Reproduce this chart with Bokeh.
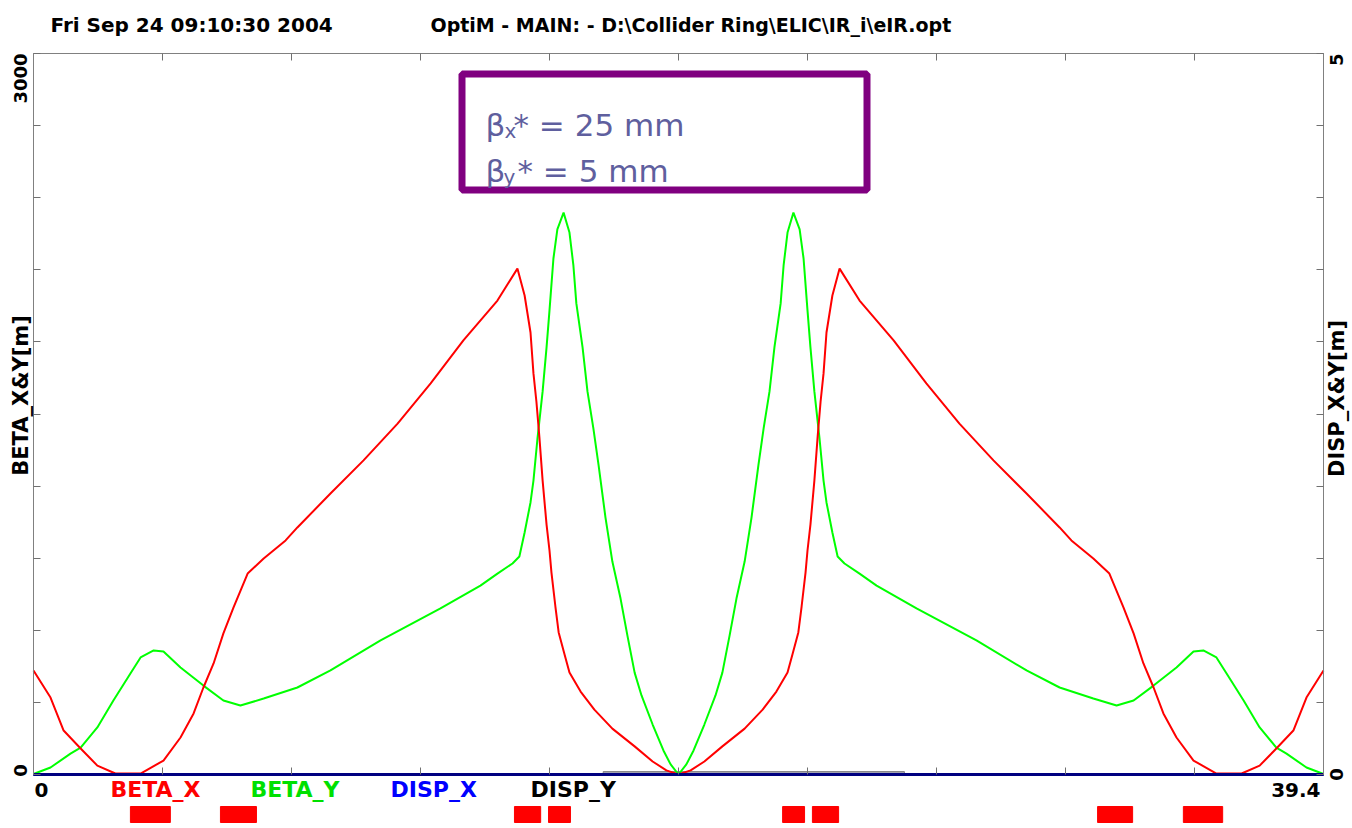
import math
from bokeh.plotting import figure
from bokeh.models import Range1d, LinearAxis, FixedTicker, Label, BoxAnnotation
from bokeh.embed import file_html
from bokeh.resources import INLINE

# ---------------- data ----------------
s_beta_x = [0.00, 0.52, 0.92, 1.44, 1.95, 2.50, 3.27, 3.97, 4.49, 4.89, 5.19, 5.50, 5.80, 6.11,
            6.54, 7.03, 7.70, 8.06, 9.07, 10.08, 11.12, 12.13, 13.13, 14.17, 14.78, 15.00, 15.18,
            15.27, 15.36, 15.45, 15.55, 15.67, 15.76, 15.82, 15.94, 16.04, 16.22, 16.37, 16.71,
            17.13, 17.68, 18.36, 18.91, 19.33, 19.70,
            20.07, 20.49, 21.04, 21.72, 22.27, 22.69, 23.03, 23.18, 23.36, 23.46, 23.58, 23.64,
            23.73, 23.85, 23.95, 24.04, 24.13, 24.22, 24.40, 24.62, 25.23, 26.27, 27.27, 28.28,
            29.32, 30.33, 31.34, 31.70, 32.37, 32.86, 33.29, 33.60, 33.90, 34.21, 34.51, 34.91,
            35.43, 36.13, 36.90, 37.45, 37.96, 38.48, 38.88, 39.40]
beta_x = [433, 320, 183, 108, 37, 4, 4, 58, 154, 254, 362, 462, 587, 695,
          836, 899, 974, 1028, 1169, 1307, 1460, 1627, 1806, 1972, 2105, 1993, 1839,
          1669, 1552, 1406, 1223, 1040, 932, 840, 699, 591, 499, 424, 345,
          270, 191, 117, 54, 17, 0,
          17, 54, 117, 191, 270, 345, 424, 499, 591, 699, 840, 932,
          1040, 1223, 1406, 1552, 1669, 1839, 1993, 2105, 1972, 1806, 1627, 1460,
          1307, 1169, 1028, 974, 899, 836, 695, 587, 462, 362, 254, 154,
          58, 4, 4, 37, 108, 183, 320, 433]

s_beta_y = [0.00, 0.52, 1.13, 1.44, 1.95, 2.44, 2.96, 3.27, 3.67, 3.97, 4.49, 5.19, 5.80, 6.32,
            7.03, 8.06, 9.07, 10.60, 12.43, 13.65, 14.17, 14.63, 14.84, 15.00, 15.18, 15.27,
            15.39, 15.55, 15.67, 15.76, 15.88, 16.00, 16.19, 16.37, 16.49, 16.58, 16.77, 16.92,
            17.10, 17.26, 17.47, 17.68, 17.93, 18.14, 18.36, 18.57, 18.91, 19.24, 19.46, 19.70,
            19.94, 20.16, 20.49, 20.83, 21.04, 21.26, 21.47, 21.72, 21.93, 22.14, 22.30, 22.48,
            22.63, 22.82, 22.91, 23.03, 23.21, 23.40, 23.52, 23.64, 23.73, 23.85, 24.01, 24.13,
            24.22, 24.40, 24.56, 24.77, 25.23, 25.75, 26.97, 28.80, 30.33, 31.34, 32.37, 33.08,
            33.60, 34.21, 34.91, 35.43, 35.73, 36.13, 36.44, 36.96, 37.45, 37.96, 38.27, 38.88,
            39.40]
beta_y = [2, 29, 87, 112, 196, 308, 420, 487, 516, 512, 445, 370, 308, 287,
          316, 362, 433, 558, 691, 786, 836, 878, 907, 1007, 1132, 1223,
          1394, 1594, 1777, 1931, 2147, 2268, 2338, 2255, 2118, 1960, 1777, 1594,
          1440, 1286, 1069, 886, 732, 578, 424, 329, 208, 100, 42, 0,
          42, 100, 208, 329, 424, 578, 732, 886, 1069, 1286, 1440, 1594,
          1777, 1960, 2118, 2255, 2338, 2268, 2147, 1931, 1777, 1594, 1394, 1223,
          1132, 1007, 907, 878, 836, 786, 691, 558, 433, 362, 316, 287,
          308, 370, 445, 512, 516, 487, 420, 308, 196, 112, 87, 29,
          2]

s_disp = [0.0, 39.4]
disp_x = [0.0, 0.0]
disp_y = [0.0, 0.0]

# lattice elements (quads) shown under the plot
elem_start = [2.96, 5.71, 14.69, 15.73, 22.88, 23.79, 32.50, 35.12]
elem_end = [4.18, 6.81, 15.49, 16.40, 23.55, 24.59, 33.57, 36.32]

# detector region drawn at the base line
det_start = [17.4]
det_end = [26.6]

x_ticks = [0, 3.94, 7.88, 11.82, 15.76, 19.70, 23.64, 27.58, 31.52, 35.46, 39.4]
y_ticks = [0, 300, 600, 900, 1200, 1500, 1800, 2100, 2400, 2700, 3000]
disp_ticks = [0, 0.5, 1, 1.5, 2, 2.5, 3, 3.5, 4, 4.5, 5]

x_end_labels = ["0", "39.4"]
beta_tick_labels = ["0", "3000"]
disp_tick_labels = ["0", "5"]
legend_names = ["BETA_X", "BETA_Y", "DISP_X", "DISP_Y"]
legend_colors = ["#ff0000", "#00e000", "#0000ff", "#000000"]

title_left = "Fri Sep 24 09:10:30 2004"
title_right = "OptiM - MAIN: - D:\\Collider Ring\\ELIC\\IR_i\\eIR.opt"

S_MAX = 39.4
B_MAX = 3000.0
D_MAX = 5.0

# ---------------- layout geometry (canvas pixels) ----------------
W, H = 1350, 824
FX0, FX1 = 33, 1323     # plot box left / right
FY_TOP, FY_BOT = 53, 774  # plot box top / bottom


def sx(px):
    return (px - FX0) * S_MAX / (FX1 - FX0)


def by(py):
    return (FY_BOT - py) * B_MAX / (FY_BOT - FY_TOP)


FONT = "DejaVu Sans"

p = figure(width=W, height=H,
           x_range=Range1d(sx(0), sx(W)), y_range=Range1d(by(H), by(0)),
           toolbar_location=None, output_backend="svg",
           x_axis_location=None, y_axis_location=None,
           min_border_left=0, min_border_right=0,
           min_border_top=0, min_border_bottom=0)
p.extra_y_ranges = {"disp": Range1d(by(H) * D_MAX / B_MAX, by(0) * D_MAX / B_MAX)}
p.xgrid.visible = False
p.ygrid.visible = False
p.outline_line_color = None
p.background_fill_color = "white"
p.border_fill_color = "white"


def style_axis(ax, line_color="#808080", line_width=1):
    ax.major_label_text_color = None
    ax.major_tick_in = 7
    ax.major_tick_out = 0
    ax.minor_tick_in = 0
    ax.minor_tick_out = 0
    ax.minor_tick_line_color = None
    ax.major_tick_line_color = "#707070"
    ax.axis_line_color = line_color
    ax.axis_line_width = line_width


xb = LinearAxis(ticker=FixedTicker(ticks=x_ticks), fixed_location=0, bounds=(0, S_MAX))
style_axis(xb, "#000080", 3)
p.add_layout(xb, "below")
xt = LinearAxis(ticker=FixedTicker(ticks=x_ticks), fixed_location=B_MAX, bounds=(0, S_MAX))
style_axis(xt)
p.add_layout(xt, "above")
yl = LinearAxis(ticker=FixedTicker(ticks=y_ticks), fixed_location=0, bounds=(0, B_MAX))
style_axis(yl)
p.add_layout(yl, "left")
yr = LinearAxis(y_range_name="disp", ticker=FixedTicker(ticks=disp_ticks),
                fixed_location=S_MAX, bounds=(0, D_MAX))
style_axis(yr)
p.add_layout(yr, "right")

# detector bar at base line
p.quad(left=det_start, right=det_end, bottom=[0], top=[12],
       fill_color="#a8a8b8", line_color="#808080", line_width=1)

# dispersion lines (zero)
p.line(s_disp, disp_x, color="#0000ff", line_width=3, y_range_name="disp")
p.line(s_disp, disp_y, color="#000000", line_width=3, line_alpha=0.5, y_range_name="disp")

# beta functions
p.line(s_beta_y, beta_y, color="#00ff00", line_width=2)
p.line(s_beta_x, beta_x, color="#ff0000", line_width=2)

# lattice elements below the plot
p.quad(left=elem_start, right=elem_end, bottom=by(822), top=by(806),
       fill_color="#ff0000", line_color="#ff0000")

# annotation box
p.add_layout(BoxAnnotation(left=sx(461.5), right=sx(866.5), top=by(73.5), bottom=by(189.5),
                           fill_color="white", fill_alpha=1.0,
                           line_color="#800080", line_width=7, line_alpha=1.0))
TXT = "#5f5f9e"
box_texts = [
    (485, 124, "\u03b2", 31), (504, 130, "x", 20), (513, 124, "* = 25 mm", 31),
    (485, 170, "\u03b2", 31), (503, 176, "y", 20), (517, 170, "* = 5 mm", 31),
]
for px, py, t, fs in box_texts:
    p.add_layout(Label(x=sx(px), y=by(py), text=t, text_font=FONT,
                       text_font_size=f"{fs}px", text_color=TXT,
                       text_baseline="alphabetic", text_align="left"))

# title
p.add_layout(Label(x=sx(50), y=by(24), text=title_left, text_font=FONT,
                   text_font_style="bold", text_font_size="20px", text_color="black",
                   text_baseline="alphabetic", text_align="left"))
p.add_layout(Label(x=sx(430), y=by(24), text=title_right, text_font=FONT,
                   text_font_style="bold", text_font_size="19px", text_color="black",
                   text_baseline="alphabetic", text_align="left"))

# x end labels and legend below the axis
p.add_layout(Label(x=sx(34), y=by(789), text=x_end_labels[0], text_font=FONT,
                   text_font_style="bold", text_font_size="20px", text_color="black",
                   text_baseline="middle", text_align="left"))
p.add_layout(Label(x=sx(1320), y=by(789), text=x_end_labels[1], text_font=FONT,
                   text_font_style="bold", text_font_size="20px", text_color="black",
                   text_baseline="middle", text_align="right"))
for px, name, col in zip([110, 250, 390, 530], legend_names, legend_colors):
    p.add_layout(Label(x=sx(px), y=by(789), text=name, text_font=FONT,
                       text_font_style="bold", text_font_size="22px", text_color=col,
                       text_baseline="middle", text_align="left"))

# left side texts (rotated)
p.add_layout(Label(x=sx(20), y=B_MAX, text=beta_tick_labels[1], angle=math.pi / 2,
                   text_font=FONT, text_font_style="bold", text_font_size="18px",
                   text_color="black", text_baseline="middle", text_align="right"))
p.add_layout(Label(x=sx(20), y=by(770), text=beta_tick_labels[0], angle=math.pi / 2,
                   text_font=FONT, text_font_style="bold", text_font_size="18px",
                   text_color="black", text_baseline="middle", text_align="center"))
p.add_layout(Label(x=sx(20), y=by(395), text="BETA_X&Y[m]", angle=math.pi / 2,
                   text_font=FONT, text_font_style="bold", text_font_size="21px",
                   text_color="black", text_baseline="middle", text_align="center"))
# right side texts (rotated)
p.add_layout(Label(x=sx(1336), y=D_MAX, y_range_name="disp", text=disp_tick_labels[1],
                   angle=math.pi / 2, text_font=FONT, text_font_style="bold",
                   text_font_size="18px", text_color="black",
                   text_baseline="middle", text_align="right"))
p.add_layout(Label(x=sx(1336), y=0, y_range_name="disp", text=disp_tick_labels[0],
                   angle=math.pi / 2, text_font=FONT, text_font_style="bold",
                   text_font_size="18px", text_color="black",
                   text_baseline="middle", text_align="center"))
p.add_layout(Label(x=sx(1336), y=by(398), text="DISP_X&Y[m]", angle=math.pi / 2,
                   text_font=FONT, text_font_style="bold", text_font_size="21px",
                   text_color="black", text_baseline="middle", text_align="center"))

open("out.html", "w").write(file_html(p, INLINE))
